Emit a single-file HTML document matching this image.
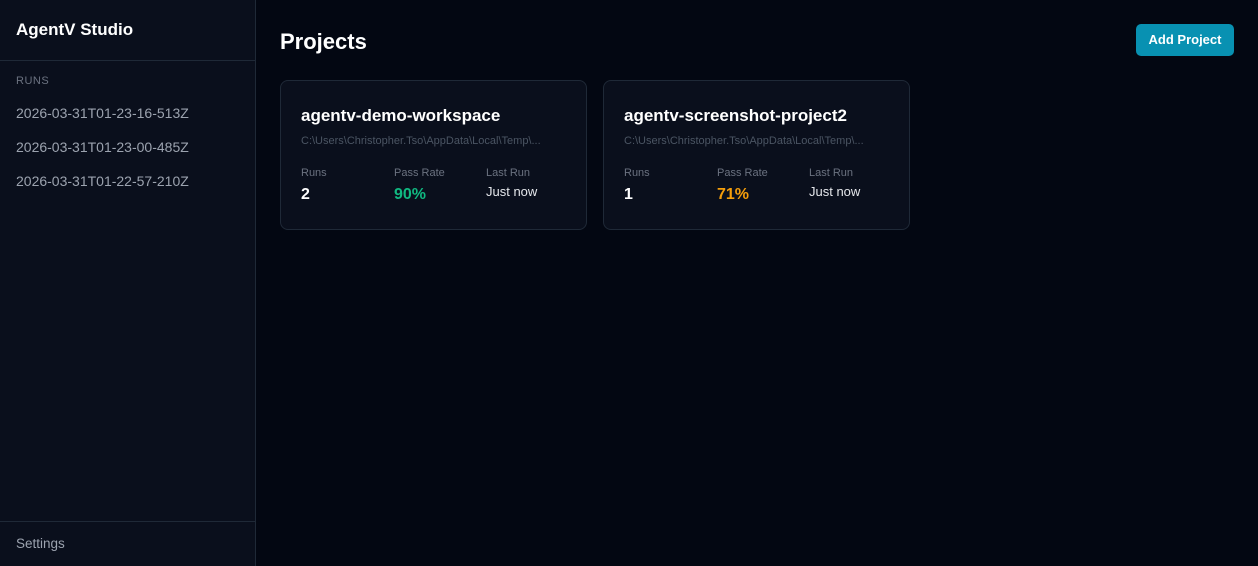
<!DOCTYPE html>
<html><head><meta charset="utf-8"><style>
*{box-sizing:border-box;margin:0;padding:0}
body{width:1258px;height:566px;background:#030712;font-family:"Liberation Sans","DejaVu Sans",sans-serif;position:relative;overflow:hidden;color:#f3f4f6}
.side{position:absolute;left:0;top:0;width:256px;height:566px;background:#0a0f1c;border-right:1px solid #1f2937}
.logo{position:absolute;left:16px;top:20px;font-size:17px;font-weight:bold;color:#fff}
.hr{position:absolute;left:0;width:255px;height:1px;background:#1f2937}
.runs{position:absolute;left:16px;top:75px;font-size:11px;color:#6b7280;letter-spacing:.5px}
.run{position:absolute;left:16px;font-size:14px;color:#9ca3af}
.settings{position:absolute;left:16px;top:536px;font-size:13.5px;color:#9ca3af}
h1{position:absolute;left:280px;top:29px;font-size:22px;font-weight:bold;color:#fff}
.btn{position:absolute;left:1136px;top:24px;width:98px;height:32px;background:#0891b2;border-radius:5px;color:#fff;font-size:13px;font-weight:bold;text-align:center;line-height:32px}
.card{position:absolute;top:80px;width:307px;height:150px;background:#0a0f1c;border:1px solid #1f2937;border-radius:8px}
.t{position:absolute;left:20px;top:25px;font-size:17px;font-weight:bold;color:#fff}
.p{position:absolute;left:20px;top:54px;font-size:11px;color:#4b5563}
.l{position:absolute;top:86px;font-size:11px;color:#6b7280}
.v{position:absolute;top:105px;font-size:16px;font-weight:bold;color:#fff}
.s{position:absolute;top:103px;font-size:13px;color:#e5e7eb}
</style></head><body>
<div class="side">
<div class="logo">AgentV Studio</div>
<div class="hr" style="top:60px"></div>
<div class="runs">RUNS</div>
<div class="run" style="top:105px">2026-03-31T01-23-16-513Z</div>
<div class="run" style="top:139px">2026-03-31T01-23-00-485Z</div>
<div class="run" style="top:173px">2026-03-31T01-22-57-210Z</div>
<div class="hr" style="top:521px"></div>
<div class="settings">Settings</div>
</div>
<h1>Projects</h1>
<div class="btn">Add Project</div>
<div class="card" style="left:280px">
<div class="t">agentv-demo-workspace</div>
<div class="p">C:\Users\Christopher.Tso\AppData\Local\Temp\...</div>
<div class="l" style="left:20px">Runs</div><div class="v" style="left:20px">2</div>
<div class="l" style="left:113px">Pass Rate</div><div class="v" style="left:113px;color:#10b981">90%</div>
<div class="l" style="left:205px">Last Run</div><div class="s" style="left:205px">Just now</div>
</div>
<div class="card" style="left:603px">
<div class="t">agentv-screenshot-project2</div>
<div class="p">C:\Users\Christopher.Tso\AppData\Local\Temp\...</div>
<div class="l" style="left:20px">Runs</div><div class="v" style="left:20px">1</div>
<div class="l" style="left:113px">Pass Rate</div><div class="v" style="left:113px;color:#f59e0b">71%</div>
<div class="l" style="left:205px">Last Run</div><div class="s" style="left:205px">Just now</div>
</div>
</body></html>
